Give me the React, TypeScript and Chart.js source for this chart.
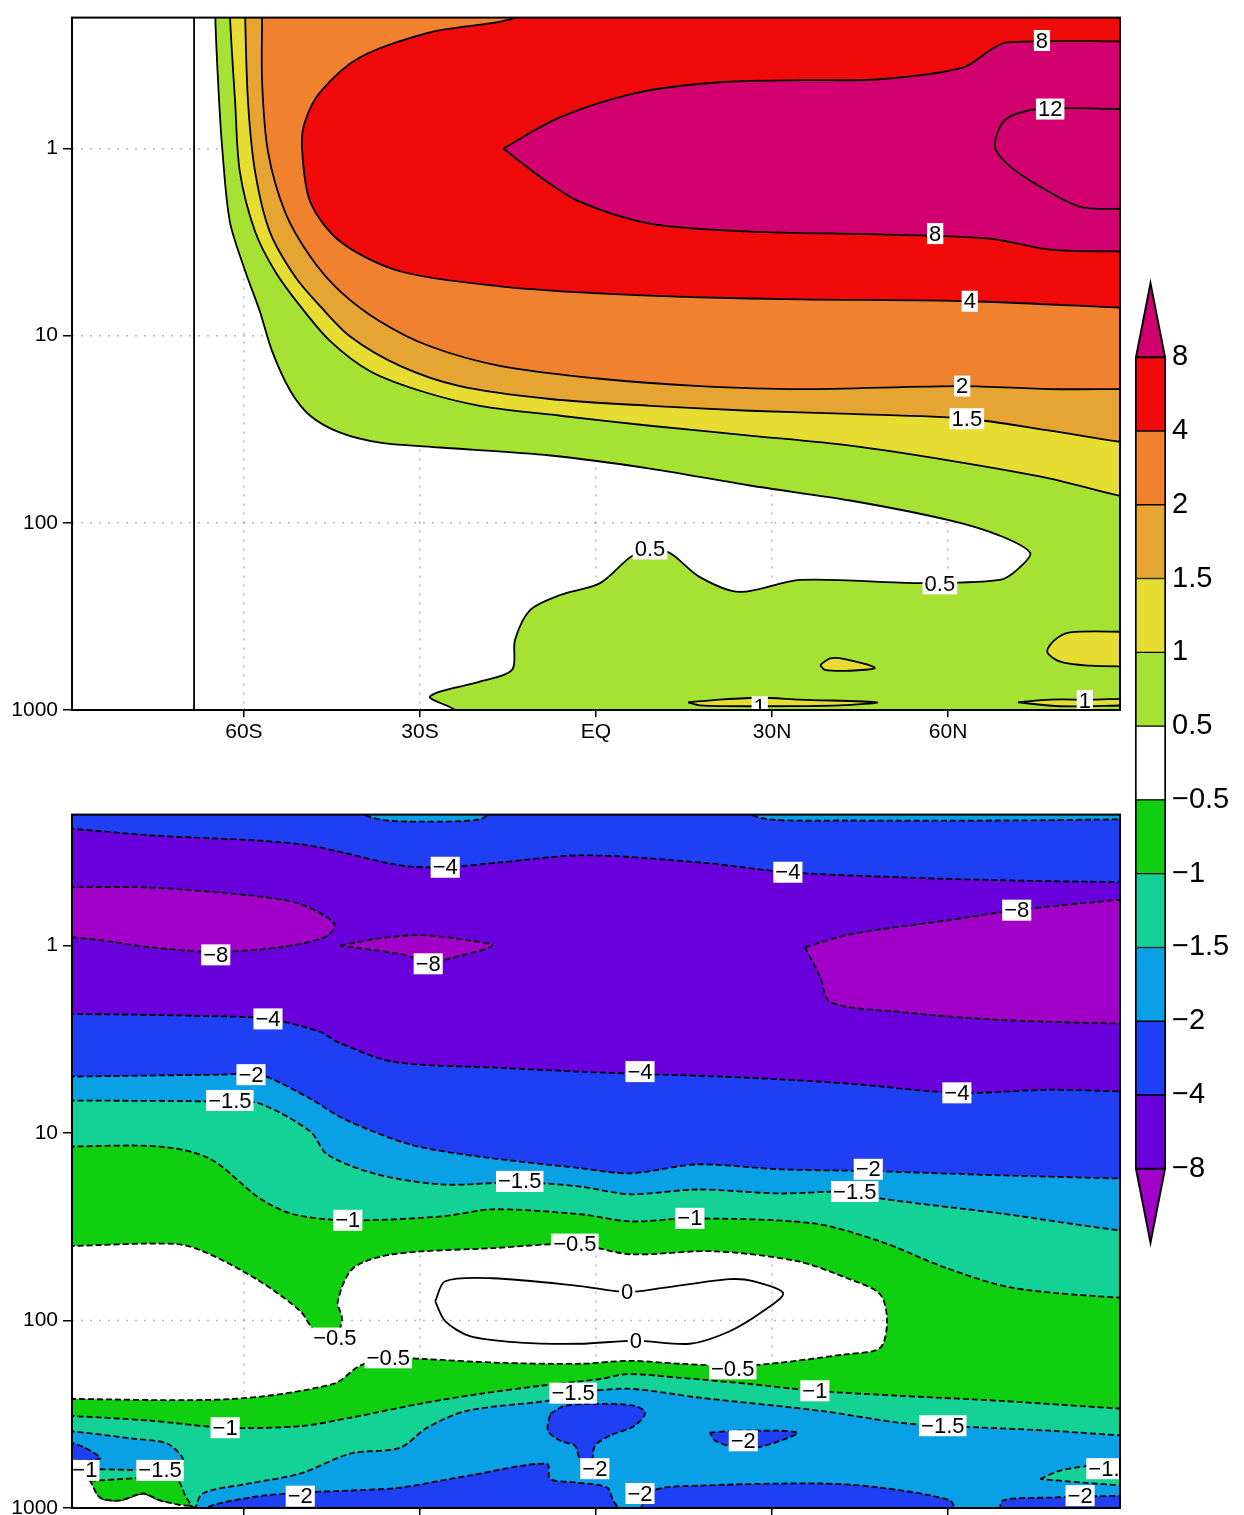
import React, { useEffect, useRef } from 'react';
import { Chart, registerables } from 'chart.js';
Chart.register(...registerables);

type Pt = [number, number];
type Lab = { t: string; lat: number; p: number };

// ---------- axes ----------
const levels = [-8, -4, -2, -1.5, -1, -0.5, 0.5, 1, 1.5, 2, 4, 8];
const latTicks = [-60, -30, 0, 30, 60];
const latTickLabels = ['60S', '30S', 'EQ', '30N', '60N'];
const pTicks = [1, 10, 100, 1000];
const maskLat = -68.5;

// ---------- top panel contours (lat, hPa) ----------
const top05: Pt[] = [[-64.9,0.2],[-64.4,0.443],[-63.7,1.0],[-62.4,2.46],[-59.8,4.5],[-57.3,7.4],[-55.2,12.1],[-52.1,19.7],[-48.7,26.8],[-43.6,33.0],[-36.8,37.3],[-26.6,39.6],[-7.8,43.7],[9.2,51.3],[26.2,63.2],[43.3,76],[60.3,97],[68.8,117],[74.0,145],
  [71.7,179],[68.8,202],[55.2,210],[34.8,202],[24.5,234],[17.7,195],[12.6,145],[9.2,137],[5.8,153],[0.7,210],[-6.1,243],[-11.2,292],[-13.8,422],[-14.3,610],[-19.8,705],[-26.6,798],[-28.3,859],[-23.2,1000],[90,1000],[90,0.2]];
const top1: Pt[] = [[-62.4,0.2],[-61.5,0.566],[-60.7,1.33],[-58.1,2.78],[-54.7,4.53],[-50.4,6.96],[-45.3,10.7],[-38.5,15.5],[-30.0,19.7],[-19.8,23.7],[-6.1,26.8],[9.2,30.3],[26.2,34.2],[43.3,38.7],[60.3,46.5],[77.4,58],[90,73],[90,0.2]];
const top15: Pt[] = [[-59.8,0.2],[-59.3,0.566],[-58.1,1.33],[-55.6,2.78],[-51.3,4.83],[-47.0,6.96],[-41.9,10.1],[-33.4,14.5],[-23.2,18.6],[-7.8,21.8],[9.2,23.7],[26.2,25.2],[43.3,26.2],[63.2,27.8],[77.4,32.2],[90,37.3],[90,0.2]];
const top2: Pt[] = [[-56.9,0.2],[-56.9,0.443],[-55.9,1.04],[-53.0,2.18],[-48.7,3.78],[-43.6,5.8],[-36.8,8.4],[-28.3,11.4],[-16.4,14.5],[0.7,17.0],[17.7,18.6],[34.8,19.3],[62.4,18.6],[77.4,19.3],[90,19.3],[90,0.2]];
const top4: Pt[] = [[-12.1,0.2],[-28.3,0.24],[-40.2,0.326],[-47.0,0.50],[-49.6,0.72],[-50.1,1.0],[-48.7,1.93],[-43.6,3.14],[-33.4,4.53],[-16.4,5.45],[0.7,5.95],[17.7,6.24],[34.8,6.4],[63.7,6.55],[90,7.1],[90,0.2]];
const top8: Pt[] = [[-15.8,1.0],[-6.1,0.68],[7.5,0.50],[21.1,0.443],[34.8,0.432],[48.4,0.427],[62.5,0.37],[67.1,0.30],[70.0,0.271],[90,0.268],[90,3.55],[77.4,3.47],[67.1,3.03],[48.4,2.88],[26.2,2.78],[9.2,2.52],[-2.7,1.93],[-9.5,1.42]];
const top12Line: Pt[] = [[90,0.616],[75.2,0.616],[69.7,0.705],[68.0,0.98],[70.6,1.25],[75.7,1.60],[82.5,2.05],[90,2.10]];
const topIsle1: Pt[] = [[90,382],[80.8,385],[78.2,422],[76.9,488],[79.1,552],[84.2,580],[90,585]];
const topIsle2: Pt[] = [[38.2,574],[39.9,530],[42.4,535],[47.5,595],[43.3,617],[39.0,610]];
const topIsle3: Pt[] = [[15.7,910],[21.1,880],[27.9,860],[34.8,880],[47.9,910],[41.6,945],[27.9,955],[17.7,945]];
const topIsle4: Pt[] = [[71.9,910],[77.4,880],[84.2,880],[90,870],[90,945],[79.1,955]];

const topLabels: Lab[] = [
  { t: '8', lat: 76.0, p: 0.265 }, { t: '12', lat: 77.4, p: 0.616 }, { t: '8', lat: 57.8, p: 2.85 },
  { t: '4', lat: 63.7, p: 6.55 }, { t: '2', lat: 62.4, p: 18.6 }, { t: '1.5', lat: 63.2, p: 27.8 },
  { t: '0.5', lat: 9.2, p: 138 }, { t: '0.5', lat: 58.6, p: 212 }, { t: '1', lat: 27.9, p: 960 },
  { t: '1', lat: 83.3, p: 890 },
];

// ---------- bottom panel contours (lat, hPa) ----------
const botSkyTop1: Pt[] = [[-40.2,0.2],[-36.8,0.212],[-30.0,0.218],[-19.8,0.212],[-18.1,0.2]];
const botSkyTop2: Pt[] = [[25.7,0.2],[29.7,0.212],[43.3,0.215],[68.8,0.215],[90,0.212],[90,0.2]];
const bot4Top: Pt[] = [[-90,0.237],[-76.0,0.258],[-50.4,0.288],[-33.4,0.373],[-25.7,0.382],[-16.4,0.36],[-2.2,0.33],[17.7,0.36],[32.7,0.406],[51.8,0.432],[68.8,0.448],[90,0.459]];
const bot4Bottom: Pt[] = [[-90,2.31],[-67.5,2.37],[-55.9,2.46],[-47.0,2.88],[-44.1,3.26],[-34.6,4.16],[-16.4,4.48],[-2.7,4.7],[7.5,4.83],[26.2,5.07],[43.3,5.45],[61.5,6.1],[77.4,5.87],[90,6.0]];
const botP1: Pt[] = [[-90,0.488],[-76.0,0.49],[-59.0,0.54],[-50.4,0.60],[-44.5,0.77],[-46.2,0.90],[-53.9,1.02],[-64.8,1.08],[-76.0,1.02],[-84.5,0.935],[-90,0.90]];
const botP2: Pt[] = [[-43.6,1.0],[-36.8,0.912],[-30.0,0.88],[-23.2,0.923],[-17.7,1.0],[-24.9,1.17],[-28.3,1.22],[-33.4,1.11]];
const botP3: Pt[] = [[35.6,1.02],[43.3,0.87],[60.3,0.73],[71.7,0.647],[90,0.566],[90,2.61],[68.8,2.49],[51.8,2.26],[39.9,2.0],[38.2,1.47]];
const bot2: Pt[] = [[-90,5.0],[-63.6,4.88],[-57.3,4.88],[-48.7,6.55],[-43.1,8.37],[-31.7,11.5],[-20.3,13.3],[-2.7,15.4],[5.8,16.4],[17.2,14.7],[31.4,15.6],[48.4,16.0],[68.8,16.8],[90,17.5]];
const bot15: Pt[] = [[-90,6.7],[-62.4,6.8],[-57.3,6.96],[-48.7,9.8],[-45.8,13.0],[-37.3,16.6],[-26.1,18.8],[-13.0,18.3],[-2.7,19.3],[5.8,21.2],[17.2,20.0],[31.4,21.0],[44.1,20.5],[48.4,22.3],[68.8,26.8],[90,33.4]];
const bot1: Pt[] = [[-90,11.8],[-74.3,11.8],[-65.8,13.7],[-57.3,22.3],[-51.6,27.1],[-42.3,29.2],[-26.1,27.8],[-17.6,25.5],[-2.7,27.1],[5.8,29.6],[16.0,28.5],[37.0,30.3],[48.4,37.8],[59.8,52.6],[71.1,67.0],[90,76]];
const botWhite: Pt[] = [[-90,40.1],[-71.4,39.1],[-65.8,44.3],[-57.3,61.7],[-50.4,89],[-47.9,114],[-44.5,124],[-43.3,98],[-44.0,79],[-41.4,52.6],[-34.6,44.3],[-17.6,41.1],[-3.6,39.1],[5.8,44.3],[19.9,42.7],[34.3,48.2],[42.8,59.5],[48.4,72.3],[49.6,100.6],[48.4,140],[42.8,151],[25.7,174],[14.3,170],[5.8,164],[-2.7,170],[-16.4,168],[-30.0,160],[-35.4,158],[-40.2,174],[-44.8,218],[-61.9,262],[-90,262]];
const bot0: Pt[] = [[-27.4,79],[-25.7,61.7],[-17.6,59.5],[-2.7,65.5],[5.3,70.5],[11.4,67.0],[22.8,60.2],[26.8,61.7],[31.9,71.5],[28.5,89],[22.8,114],[16.0,133],[6.8,128],[-2.7,133],[-13.0,131],[-21.5,121],[-25.7,100.6]];
const bot1Low: Pt[] = [[-90,322],[-76.0,342],[-63.2,373],[-50.4,366],[-41.9,330],[-30.0,278],[-19.8,246],[-9.5,223],[0.7,205],[5.3,193],[14.3,202],[26.2,218],[37.3,237],[51.8,252],[68.8,268],[90,296]];
const botSkyLeft: Pt[] = [[-90,387],[-78.9,427],[-73.1,453],[-70.4,545],[-70.9,617],[-90,617]];
const botBlueLeft: Pt[] = [[-90,440],[-87.1,477],[-84.5,545],[-90,560]];
const bot15Low: Pt[] = [[-68.3,1000],[-67.0,837],[-59.0,740],[-50.4,655],[-41.9,513],[-33.4,477],[-28.8,373],[-22.0,303],[-8.4,268],[-3.9,246],[5.3,231],[17.7,258],[38.2,303],[51.8,351],[59.1,364],[77.4,387],[90,411]];
const botBlueA: Pt[] = [[-67.5,1000],[-59.0,880],[-50.4,828],[-41.9,807],[-33.4,778],[-21.5,670],[-8.4,580],[-7.8,700],[-3.6,730],[1.9,778],[2.9,910],[4.1,1000]];
const botBlueB: Pt[] = [[7.5,1000],[9.7,807],[17.7,760],[38.2,740],[48.4,778],[60.3,910],[61.2,1000]];
const botBlueC: Pt[] = [[68.8,1000],[69.4,910],[77.4,880],[90,859],[90,1000]];
const botBlueMid: Pt[] = [[-7.8,314],[-5.3,285],[0.7,278],[6.6,285],[8.4,310],[6.6,364],[2.4,411],[-0.2,465],[-0.7,545],[-2.7,545],[-3.6,465],[-6.1,438],[-8.2,387]];
const botBlueRight: Pt[] = [[19.4,396],[24.5,387],[34.3,396],[28.8,465],[24.5,482],[20.3,438]];
const botTealRight: Pt[] = [[75.7,700],[79.1,632],[84.2,595],[90,580],[90,760],[82.5,730]];
const botWhiteCorner: Pt[] = [[-90,700],[-86.2,715],[-84.5,880],[-81.1,910],[-77.2,837],[-74.3,910],[-69.2,970],[-67.8,1000],[-90,1000]];
const botGreenLeft: Pt[] = [[-86.2,715],[-71.7,700],[-70.0,859],[-69.2,970],[-74.3,910],[-77.2,837],[-81.1,910],[-84.5,880]];

const M = '\u2212';
const botLabels: Lab[] = [
  { t: M + '4', lat: -25.7, p: 0.382 }, { t: M + '4', lat: 32.7, p: 0.406 },
  { t: M + '8', lat: -64.8, p: 1.12 }, { t: M + '8', lat: -28.6, p: 1.25 }, { t: M + '8', lat: 71.7, p: 0.647 },
  { t: M + '4', lat: -55.9, p: 2.46 }, { t: M + '4', lat: 7.5, p: 4.7 }, { t: M + '4', lat: 61.5, p: 6.1 },
  { t: M + '2', lat: -58.8, p: 4.88 }, { t: M + '1.5', lat: -62.4, p: 6.7 },
  { t: M + '1.5', lat: -13.0, p: 18.1 }, { t: M + '2', lat: 46.4, p: 15.6 }, { t: M + '1.5', lat: 44.1, p: 20.5 },
  { t: M + '1', lat: -42.3, p: 29.2 }, { t: M + '1', lat: 16.0, p: 28.5 },
  { t: M + '0.5', lat: -3.6, p: 39.1 }, { t: '0', lat: 5.3, p: 70.5 }, { t: '0', lat: 6.8, p: 128 },
  { t: M + '0.5', lat: -44.5, p: 124 }, { t: M + '0.5', lat: -35.4, p: 158 }, { t: M + '0.5', lat: 23.3, p: 181 },
  { t: M + '1.5', lat: -3.9, p: 244 }, { t: M + '1', lat: 37.3, p: 237 }, { t: M + '1', lat: -63.2, p: 373 },
  { t: M + '1.5', lat: 59.1, p: 364 }, { t: M + '2', lat: 25.1, p: 438 }, { t: M + '2', lat: -0.2, p: 617 },
  { t: M + '2', lat: 7.5, p: 837 }, { t: M + '2', lat: -50.4, p: 865 }, { t: M + '1.5', lat: -74.3, p: 630 },
  { t: M + '1', lat: -87.1, p: 630 }, { t: M + '1.5', lat: 87.6, p: 617 }, { t: M + '2', lat: 82.5, p: 859 },
];

// ---------- styles ----------
const FONT = '"Liberation Sans", Arial, Helvetica, sans-serif';
const C = {
  p05: '#a5e234', p1: '#e6dc32', p15: '#e6a532', p2: '#f0822f', p4: '#f00a0a', p8: '#d2006e',
  n05: '#10cf10', n1: '#14d296', n15: '#0aa0e6', n2: '#1f3ff5', n4: '#6a00dc', n8: '#a000c8',
};
const cbBands = [C.n4, C.n2, C.n15, C.n1, C.n05, '#ffffff', C.p05, C.p1, C.p15, C.p2, C.p4];
const gridColor = 'rgba(0,0,0,0.28)';
const gridDash = [2, 7];
const DASH = [6, 3];
const LW = 1.8;
const TENSION = 0.3;
const BOTTOM: Pt[] = [[90, 1000], [-90, 1000]];

const fmt = (v: number) => (v < 0 ? M + Math.abs(v) : String(v));

// Points lying on the frame are pushed just outside it (twice, near + far), so that the
// smoothed curve leaves the plot straight and corners fall outside the clipped area.
const onX = (p: Pt) => Math.abs(p[0]) >= 90;
const onTop = (p: Pt) => p[1] <= 0.2;
const onBot = (p: Pt) => p[1] >= 1000;
const onEdge = (p: Pt | undefined) => !p || onX(p) || onTop(p) || onBot(p);
function edgePts(p: Pt, far: boolean) {
  if (onX(p)) return { x: Math.sign(p[0]) * (far ? 96 : 90.5), y: p[1] };
  if (onTop(p)) return { x: p[0], y: far ? 0.12 : 0.19 };
  return { x: p[0], y: far ? 1600 : 1050 };
}
function expand(points: Pt[], closed: boolean) {
  const n = points.length;
  const out: { x: number; y: number }[] = [];
  points.forEach((p, i) => {
    const prev = closed ? points[(i - 1 + n) % n] : points[i - 1];
    const next = closed ? points[(i + 1) % n] : points[i + 1];
    if (onX(p) && (onTop(p) || onBot(p))) {
      out.push({ x: Math.sign(p[0]) * 100, y: onTop(p) ? 0.08 : 3000 });
      return;
    }
    if (!onEdge(p)) { out.push({ x: p[0], y: p[1] }); return; }
    const prevIn = !onEdge(prev);
    const nextIn = !onEdge(next);
    if (prevIn && !nextIn) out.push(edgePts(p, false), edgePts(p, true));
    else if (!prevIn && nextIn) out.push(edgePts(p, true), edgePts(p, false));
    else if (prevIn && nextIn) out.push(edgePts(p, false));
    else out.push(edgePts(p, true));
  });
  if (closed) out.push({ ...out[0] });
  return out;
}

function poly(points: Pt[], color: string | null, dashed: boolean, extra: any = {}) {
  return {
    data: expand(points, true),
    backgroundColor: color || 'rgba(0,0,0,0)',
    fill: color ? 'shape' : false,
    borderColor: '#000',
    borderWidth: LW,
    borderDash: dashed ? DASH : [],
    pointRadius: 0,
    pointHoverRadius: 0,
    tension: TENSION,
    ...extra,
  };
}
function line(points: Pt[], dashed: boolean, closed = false, tension = TENSION) {
  return {
    data: expand(points, closed),
    fill: false,
    borderColor: '#000',
    borderWidth: LW,
    borderDash: dashed ? DASH : [],
    pointRadius: 0,
    pointHoverRadius: 0,
    tension,
  };
}
const ordered = (ds: any[]) => ds.map((d, i) => ({ ...d, order: ds.length - i }));

function mainOptions(xh: number) {
  return {
    responsive: false,
    animation: false,
    events: [],
    devicePixelRatio: 1,
    layout: { padding: { top: 15, right: 5, left: 0, bottom: 0 } },
    elements: { line: { capBezierPoints: false } },
    plugins: { legend: { display: false }, tooltip: { enabled: false } },
    scales: {
      x: {
        type: 'linear', min: -89.3, max: 89.3,
        afterBuildTicks: (s: any) => { s.ticks = latTicks.map((v) => ({ value: v })); },
        afterFit: (s: any) => { s.height = xh; },
        ticks: {
          autoSkip: false, maxRotation: 0, padding: 3, color: '#000', font: { family: FONT, size: 21 },
          callback: (v: any) => { const i = latTicks.indexOf(Number(v)); return i >= 0 ? latTickLabels[i] : ''; },
        },
        grid: { color: gridColor, lineWidth: 1.5, drawTicks: true, tickLength: 7, tickColor: '#000', tickWidth: 1.5 },
        border: { display: false, dash: gridDash },
      },
      y: {
        type: 'logarithmic', reverse: true, min: 0.2, max: 1000,
        afterBuildTicks: (s: any) => { s.ticks = pTicks.map((v) => ({ value: v })); },
        afterFit: (s: any) => { s.width = 72; },
        ticks: { autoSkip: false, padding: 5, color: '#000', font: { family: FONT, size: 21 }, callback: (v: any) => String(v) },
        grid: { color: gridColor, lineWidth: 1.5, drawTicks: true, tickLength: 9, tickColor: '#000', tickWidth: 1.5 },
        border: { display: false, dash: gridDash },
      },
    },
  };
}

const frameAndLabels = (labels: Lab[]) => ({
  id: 'frameLabels',
  afterDatasetsDraw(chart: any) {
    const { ctx, chartArea: a, scales } = chart;
    ctx.save();
    ctx.beginPath();
    ctx.rect(a.left, a.top, a.right - a.left, a.bottom - a.top);
    ctx.clip();
    ctx.font = '22px ' + FONT;
    ctx.textAlign = 'center';
    ctx.textBaseline = 'middle';
    for (const l of labels) {
      const x = scales.x.getPixelForValue(l.lat);
      const y = scales.y.getPixelForValue(l.p);
      const w = ctx.measureText(l.t).width + 4;
      const h = 21;
      ctx.fillStyle = '#fff';
      ctx.fillRect(x - w / 2, y - h / 2, w, h);
      ctx.fillStyle = '#000';
      ctx.fillText(l.t, x, y + 1);
    }
    ctx.restore();
    ctx.save();
    ctx.strokeStyle = '#000';
    ctx.lineWidth = 2;
    ctx.strokeRect(a.left, a.top, a.right - a.left, a.bottom - a.top);
    ctx.restore();
  },
});

const baseFill = (color: string) => ({
  id: 'baseFill',
  beforeDatasetsDraw(chart: any) {
    const { ctx, chartArea: a } = chart;
    ctx.save();
    ctx.fillStyle = color;
    ctx.fillRect(a.left, a.top, a.right - a.left, a.bottom - a.top);
    ctx.restore();
  },
});

// redraw dotted grid inside white (hole) polygons
const gridInHoles = {
  id: 'gridInHoles',
  afterDatasetDraw(chart: any, args: any) {
    const ds = chart.data.datasets[args.index];
    if (!ds || !ds.gridHole) return;
    const { ctx, chartArea: a, scales } = chart;
    const pts = args.meta.data;
    ctx.save();
    ctx.beginPath();
    ctx.rect(a.left, a.top, a.right - a.left, a.bottom - a.top);
    ctx.clip();
    ctx.beginPath();
    pts.forEach((p: any, i: number) => (i ? ctx.lineTo(p.x, p.y) : ctx.moveTo(p.x, p.y)));
    ctx.closePath();
    ctx.clip();
    ctx.strokeStyle = gridColor;
    ctx.lineWidth = 1.5;
    ctx.setLineDash(gridDash);
    for (const v of latTicks) {
      const x = scales.x.getPixelForValue(v);
      ctx.beginPath(); ctx.moveTo(x, a.top); ctx.lineTo(x, a.bottom); ctx.stroke();
    }
    for (const v of pTicks) {
      const y = scales.y.getPixelForValue(v);
      ctx.beginPath(); ctx.moveTo(a.left, y); ctx.lineTo(a.right, y); ctx.stroke();
    }
    ctx.restore();
  },
};

function topConfig(): any {
  const datasets = ordered([
    poly(top05, C.p05, false),
    poly(top1, C.p1, false),
    poly(top15, C.p15, false),
    poly(top2, C.p2, false),
    poly(top4, C.p4, false),
    poly(top8, C.p8, false),
    line(top12Line, false),
    poly(topIsle1, C.p1, false),
    poly(topIsle2, C.p1, false),
    poly(topIsle3, C.p1, false),
    poly(topIsle4, C.p1, false),
    line([[maskLat, 0.2], [maskLat, 1000]], false, false, 0),
  ]);
  return { type: 'line', data: { datasets }, options: mainOptions(35), plugins: [frameAndLabels(topLabels)] };
}

function botConfig(): any {
  const datasets = ordered([
    poly(botSkyTop1, C.n15, true),
    poly(botSkyTop2, C.n15, true),
    poly(bot4Top.concat(bot4Bottom.slice().reverse()), C.n4, true),
    poly(botP1, C.n8, true),
    poly(botP2, C.n8, true),
    poly(botP3, C.n8, true),
    poly(bot2.concat(BOTTOM), C.n15, true),
    poly(bot15.concat(BOTTOM), C.n1, true),
    poly(bot1.concat(BOTTOM), C.n05, true),
    poly(botWhite, '#ffffff', true, { gridHole: true }),
    line(bot0, false, true),
    poly(bot1Low.concat(BOTTOM), C.n1, true),
    poly(botSkyLeft, C.n15, true),
    poly(botBlueLeft, C.n2, true),
    poly(bot15Low.concat([[90, 1000]]), C.n15, true),
    poly(botBlueA, C.n2, true),
    poly(botBlueB, C.n2, true),
    poly(botBlueC, C.n2, true),
    poly(botBlueMid, C.n2, true),
    poly(botBlueRight, C.n2, true),
    poly(botTealRight, C.n1, true),
    poly(botWhiteCorner, '#ffffff', false),
    poly(botGreenLeft, C.n05, true),
  ]);
  return {
    type: 'line',
    data: { datasets },
    options: mainOptions(37),
    plugins: [baseFill(C.n2), gridInHoles, frameAndLabels(botLabels)],
  };
}

const triangles = {
  id: 'cbTriangles',
  afterDatasetsDraw(chart: any) {
    const { ctx, chartArea: a, scales } = chart;
    const y = scales.y;
    const cx = (a.left + a.right) / 2;
    const tri = (base: number, apex: number, color: string) => {
      ctx.save();
      ctx.beginPath();
      ctx.moveTo(a.left + 1, base);
      ctx.lineTo(a.right - 1, base);
      ctx.lineTo(cx, apex);
      ctx.closePath();
      ctx.fillStyle = color;
      ctx.fill();
      ctx.strokeStyle = '#000';
      ctx.lineWidth = 2;
      ctx.lineJoin = 'miter';
      ctx.stroke();
      ctx.restore();
    };
    tri(y.getPixelForValue(levels.length), y.getPixelForValue(levels.length + 1), C.p8);
    tri(y.getPixelForValue(1), y.getPixelForValue(0), C.n8);
  },
};

function cbConfig(): any {
  return {
    type: 'bar',
    data: {
      labels: ['c'],
      datasets: cbBands.map((c, i) => ({
        data: [[i + 1, i + 2]],
        backgroundColor: c,
        borderColor: '#000',
        borderWidth: { left: 2, right: 2, top: 1, bottom: 1 },
        borderSkipped: false,
        barPercentage: 1,
        categoryPercentage: 1,
        grouped: false,
      })),
    },
    options: {
      responsive: false,
      animation: false,
      events: [],
      devicePixelRatio: 1,
      layout: { padding: { top: 0, bottom: 18, left: 10, right: 0 } },
      plugins: { legend: { display: false }, tooltip: { enabled: false } },
      scales: {
        x: { display: false },
        y: {
          position: 'right', min: 0, max: levels.length + 1,
          afterBuildTicks: (s: any) => { s.ticks = levels.map((_, i) => ({ value: i + 1 })); },
          afterFit: (s: any) => { s.width = 78; },
          grid: { display: false, drawTicks: false },
          border: { display: false },
          ticks: { padding: 6, color: '#000', font: { family: FONT, size: 29 }, callback: (v: any) => fmt(levels[Number(v) - 1]) },
        },
      },
    },
    plugins: [triangles],
  };
}

export default function App() {
  const topRef = useRef<HTMLCanvasElement>(null);
  const botRef = useRef<HTMLCanvasElement>(null);
  const cbRef = useRef<HTMLCanvasElement>(null);
  useEffect(() => {
    const charts = [
      new Chart(topRef.current as HTMLCanvasElement, topConfig()),
      new Chart(botRef.current as HTMLCanvasElement, botConfig()),
      new Chart(cbRef.current as HTMLCanvasElement, cbConfig()),
    ];
    return () => charts.forEach((c) => c.destroy());
  }, []);
  return (
    <div style={{ position: 'absolute', left: 0, top: 0, width: 1244, height: 1515, overflow: 'hidden', background: '#fff' }}>
      <canvas ref={topRef} width={1125} height={745} style={{ position: 'absolute', left: 0, top: 0, width: 1125, height: 745 }} />
      <canvas ref={botRef} width={1125} height={748} style={{ position: 'absolute', left: 0, top: 797, width: 1125, height: 748 }} />
      <canvas ref={cbRef} width={119} height={1006} style={{ position: 'absolute', left: 1125, top: 260, width: 119, height: 1006 }} />
    </div>
  );
}
